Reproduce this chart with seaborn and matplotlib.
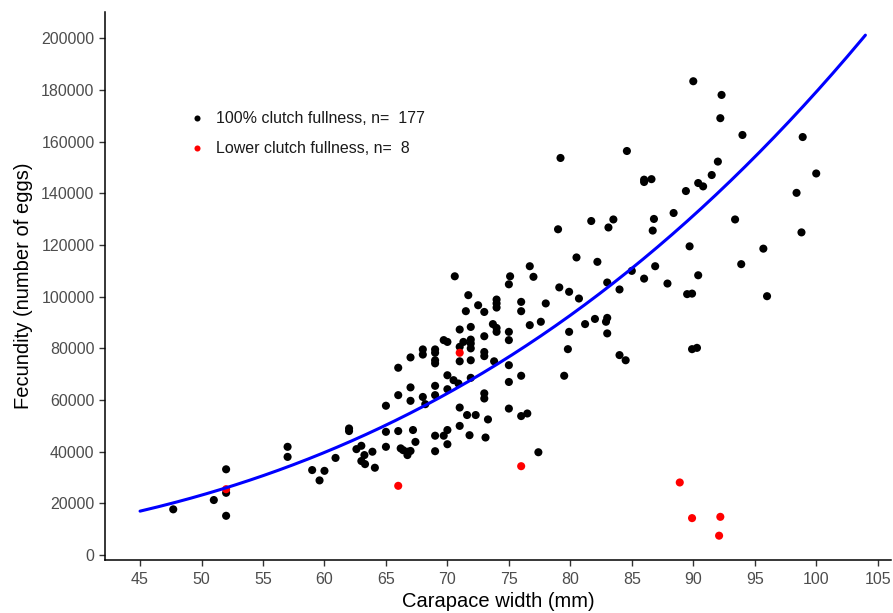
import numpy as np
import pandas as pd
import matplotlib
matplotlib.use("Agg")
import matplotlib.pyplot as plt
import seaborn as sns

# ---- data ----
full_cw = [47.7, 51.0, 52.0, 52.0, 52.0, 57.0, 57.0, 59.0, 59.6, 60.0, 60.9, 62.0, 62.0,
           62.6, 63.0, 63.25, 63.0, 63.3, 63.9, 64.1, 65.0, 65.0, 65.0, 66.0, 67.0, 67.0,
           66.0, 66.2, 66.4, 66.75, 67.0, 66.75, 67.2, 67.4, 68.0, 68.2, 69.0, 69.0, 70.0,
           70.5, 70.9, 69.0, 69.0, 69.7, 70.0, 70.0, 71.0, 71.0, 71.6, 71.8,
           70.6, 71.7, 71.5, 71.0, 69.7, 70.0, 71.0, 71.3, 71.0, 68.0, 68.0, 69.0, 69.0,
           69.0, 69.0, 67.0, 66.0, 70.0,
           71.9, 72.5, 73.0, 74.0, 74.0, 74.0, 75.1, 75.0, 76.7, 77.0, 76.0, 76.0, 78.0,
           77.6, 76.7, 79.1, 79.9, 80.5, 80.7, 81.2, 79.9, 79.8, 79.5, 73.7, 74.0, 74.0,
           75.0, 75.0, 73.0, 71.9, 71.9, 71.9, 71.9, 73.0, 73.0, 73.8, 75.0, 71.9, 75.0, 76.0,
           73.0, 73.0, 72.3, 73.3, 73.1, 75.0, 76.0, 76.5, 77.4,
           79.2, 84.6, 86.0, 86.0, 86.6, 89.4, 88.4, 86.8, 86.7, 79.0, 81.7, 83.5, 83.1,
           82.2, 86.9, 85.0, 86.0, 87.9, 89.5, 89.7, 83.0, 84.0, 82.0, 83.0, 82.9, 83.0,
           90.0, 92.3, 92.2, 94.0, 98.9, 92.0, 91.5, 90.4, 90.8, 100.0, 98.4, 93.4,
           98.8, 95.7, 93.9, 90.4, 89.9, 96.0, 89.9, 90.3, 84.0, 84.5]
full_fec = [17.7, 21.3, 33.2, 24.1, 15.2, 41.9, 38.0, 32.9, 28.9, 32.6, 37.6, 49.0, 48.0,
            41.0, 42.3, 38.7, 36.4, 35.2, 40.0, 33.8, 57.8, 47.7, 41.9, 61.9, 64.9, 59.7,
            48.0, 41.3, 40.6, 40.0, 40.3, 38.7, 48.4, 43.8, 61.2, 58.4, 65.5, 61.9, 64.2,
            67.7, 66.4, 46.2, 40.2, 46.2, 48.4, 42.9, 57.1, 50.0, 54.2, 46.4,
            107.9, 100.6, 94.4, 87.3, 83.2, 82.5, 80.6, 82.5, 75.0, 79.6, 77.6, 79.6, 78.3,
            75.4, 74.2, 76.5, 72.5, 69.6,
            88.3, 96.7, 94.1, 98.9, 97.4, 95.8, 107.9, 104.8, 111.8, 107.7, 98.0, 94.4, 97.4,
            90.3, 89.0, 103.6, 101.9, 115.2, 99.3, 89.4, 86.4, 79.7, 69.4, 89.4, 87.9, 86.4,
            86.4, 83.2, 84.7, 83.4, 81.9, 80.0, 75.4, 78.6, 77.0, 75.0, 73.5, 68.6, 67.0, 69.4,
            62.6, 60.6, 54.2, 52.5, 45.5, 56.7, 53.8, 54.8, 39.8,
            153.7, 156.4, 145.3, 144.4, 145.5, 140.9, 132.4, 130.1, 125.6, 126.1, 129.3, 129.9, 126.8,
            113.5, 111.8, 110.0, 107.0, 105.1, 101.0, 119.5, 105.5, 102.8, 91.4, 91.8, 90.3, 85.8,
            183.4, 178.1, 169.1, 162.6, 161.8, 152.3, 147.1, 144.0, 142.7, 147.7, 140.2, 129.9,
            124.9, 118.6, 112.6, 108.3, 101.2, 100.2, 79.7, 80.2, 77.4, 75.4]

low_cw = [52.0, 66.0, 71.0, 76.0, 88.9, 89.9, 92.2, 92.1]
low_fec = [25.5, 26.8, 78.3, 34.4, 28.1, 14.3, 14.8, 7.5]

group_names = ["100% clutch fullness", "Lower clutch fullness"]
group_n = [177, 8]

# fitted power curve  F = a * CW^b  (parameters)
fit_b = 2.95
fit_a = 17000 / 45 ** fit_b
fit_range = [45, 104]

x_ticks = [45, 50, 55, 60, 65, 70, 75, 80, 85, 90, 95, 100, 105]
y_ticks = [0, 20000, 40000, 60000, 80000, 100000, 120000, 140000, 160000, 180000, 200000]

# ---- build tables ----
labels = [f"{g}, n=  {n}" for g, n in zip(group_names, group_n)]
df = pd.DataFrame({
    "cw": list(full_cw) + list(low_cw),
    "fec": [v * 1000 for v in full_fec] + [v * 1000 for v in low_fec],
    "group": [labels[0]] * len(full_cw) + [labels[1]] * len(low_cw),
})
xc = np.linspace(fit_range[0], fit_range[1], 200)
curve = pd.DataFrame({"cw": xc, "fec": fit_a * xc ** fit_b})

# ---- plot ----
sns.set_theme(style="ticks")
plt.rcParams["font.family"] = ["Liberation Sans", "DejaVu Sans"]

fig = plt.figure(figsize=(8.93, 6.13), dpi=100)
ax = fig.add_axes([0.1176, 0.0865, 0.8804, 0.8935])

sns.scatterplot(data=df, x="cw", y="fec", hue="group",
                palette={labels[0]: "#000000", labels[1]: "#FF0000"},
                s=34, linewidth=0, ax=ax, zorder=2)
sns.lineplot(data=curve, x="cw", y="fec", color="#0000FF", linewidth=2.2,
             ax=ax, zorder=3, legend=False)

ax.set_xlim(42.15, 106.1)
ax.set_ylim(-1900, 210100)
ax.set_xticks(x_ticks)
ax.set_yticks(y_ticks)
ax.set_yticklabels([str(v) for v in y_ticks])
ax.tick_params(axis="both", labelsize=11.5, colors="#333333", length=4, width=1,
               labelcolor="#4D4D4D")
ax.tick_params(axis="x", pad=4.5)
for sp in ["top", "right"]:
    ax.spines[sp].set_visible(False)
for sp in ["left", "bottom"]:
    ax.spines[sp].set_color("black")
    ax.spines[sp].set_linewidth(1.1)

ax.set_xlabel("Carapace width (mm)", fontsize=14.5, color="black", labelpad=4)
ax.set_ylabel("Fecundity (number of eggs)", fontsize=14.5, color="black", labelpad=6)

leg = ax.legend(loc="upper left", bbox_to_anchor=(0.097, 0.831), frameon=False,
                fontsize=11.5, markerscale=0.75, handletextpad=0.6,
                labelspacing=0.95, borderaxespad=0, handlelength=1.2)
for t in leg.get_texts():
    t.set_color("#1A1A1A")

fig.savefig("out.png", dpi=100)
